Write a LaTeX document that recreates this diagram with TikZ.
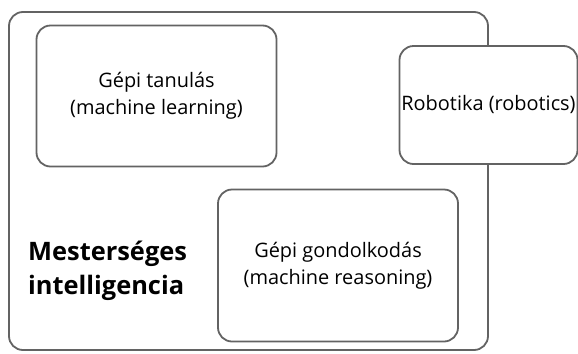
\documentclass[tikz,border=0pt]{standalone}
\usepackage{fontspec}
\setmainfont{Open Sans}
\usepackage{tikz}
\definecolor{boxgray}{HTML}{636363}
\tikzstyle{area}=[draw=boxgray,%
                  line width=1.8bp,%
                  rounded corners=14bp,%
                  rectangle,%
                  inner sep=0pt]
\tikzstyle{field}=[area,fill=white,align=center,font=\fontsize{20}{27}\selectfont]

\begin{document}
\begin{tikzpicture}[x=1bp,y=-1bp]
            \useasboundingbox (0,0) rectangle (578,353);
            \node[area,minimum width=479bp,minimum height=338bp] (ai) at (248.5,181) {};
            \node[field,minimum width=240bp,minimum height=141bp] (ml) at (156.5,96) {Gépi tanulás\\(machine learning)};
            \node[field,minimum width=178bp,minimum height=118bp] (rob) at (488.5,105) {Robotika (robotics)};
            \node[field,minimum width=240bp,minimum height=152bp] (mr) at (338,265.5) {Gépi gondolkodás\\(machine reasoning)};
            \node[align=left,font=\fontsize{25.5}{34}\selectfont\bfseries,anchor=west,inner sep=0pt] (label) at (28,271) {Mesterséges\\intelligencia};
\end{tikzpicture}
\end{document}
